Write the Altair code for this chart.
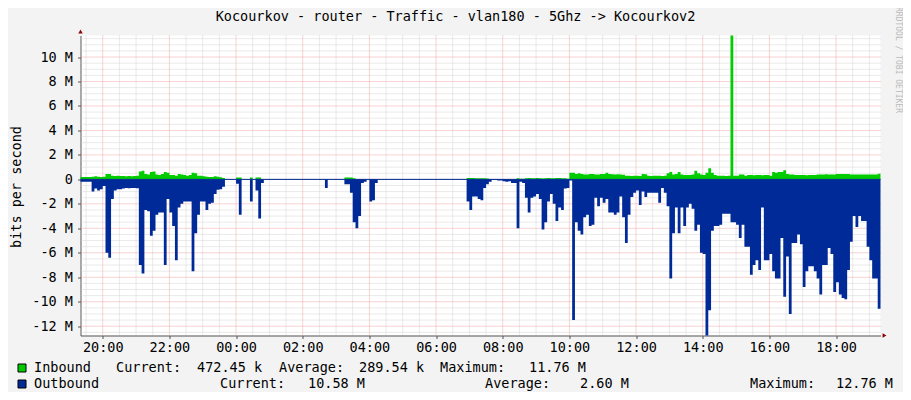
import altair as alt
import pandas as pd

TITLE = "Kocourkov - router - Traffic - vlan180 - 5Ghz -> Kocourkov2"
Y_TITLE = "bits per second"
WATERMARK = "RRDTOOL / TOBI OETIKER"
START_HOUR = 19 + 20 / 60
STEP_HOURS = 5 / 60

# Inbound traffic, M bits/s, one value per 5 minutes from 19:20
inbound = [
    0.2, 0.2, 0.2, 0.2, 0.22, 0.25, 0.22, 0.2, 0.22, 0.45, 0.45, 0.3,
    0.28, 0.3, 0.27, 0.27, 0.25, 0.27, 0.25, 0.27, 0.3, 0.65, 0.7, 0.45,
    0.4, 0.6, 0.65, 0.4, 0.35, 0.45, 0.6, 0.55, 0.35, 0.35, 0.3, 0.45,
    0.4, 0.35, 0.3, 0.35, 0.55, 0.5, 0.3, 0.3, 0.25, 0.22, 0.2, 0.2,
    0.25, 0.22, 0.18, 0.12, 0.02, 0.02, 0.02, 0.02, 0.15, 0.15, 0.02, 0.02,
    0.02, 0.15, 0.02, 0.15, 0.15, 0.02, 0.02, 0.02, 0.02, 0.02, 0.02, 0.02,
    0.02, 0.02, 0.02, 0.02, 0.02, 0.02, 0.02, 0.02, 0.02, 0.02, 0.02, 0.02,
    0.02, 0.02, 0.02, 0.02, 0.02, 0.02, 0.02, 0.02, 0.02, 0.02, 0.02, 0.15,
    0.15, 0.15, 0.1, 0.02, 0.02, 0.02, 0.02, 0.02, 0.02, 0.02, 0.02, 0.02,
    0.02, 0.02, 0.02, 0.02, 0.02, 0.02, 0.02, 0.02, 0.02, 0.02, 0.02, 0.02,
    0.02, 0.02, 0.02, 0.02, 0.02, 0.02, 0.02, 0.02, 0.02, 0.02, 0.02, 0.02,
    0.02, 0.02, 0.02, 0.02, 0.02, 0.02, 0.02, 0.12, 0.12, 0.12, 0.1, 0.1,
    0.1, 0.1, 0.08, 0.03, 0.03, 0.03, 0.03, 0.03, 0.03, 0.03, 0.03, 0.03,
    0.03, 0.1, 0.05, 0.05, 0.1, 0.12, 0.1, 0.1, 0.12, 0.1, 0.08, 0.1,
    0.12, 0.1, 0.1, 0.12, 0.12, 0.1, 0.1, 0.05, 0.55, 0.55, 0.45, 0.5,
    0.45, 0.4, 0.4, 0.45, 0.45, 0.4, 0.4, 0.45, 0.45, 0.55, 0.45, 0.42,
    0.4, 0.42, 0.4, 0.38, 0.3, 0.3, 0.28, 0.3, 0.3, 0.28, 0.45, 0.42,
    0.3, 0.28, 0.3, 0.3, 0.3, 0.28, 0.3, 0.5, 0.6, 0.4, 0.45, 0.6,
    0.4, 0.35, 0.35, 0.35, 0.4, 0.7, 0.5, 0.4, 0.35, 0.55, 0.9, 0.55,
    0.35, 0.3, 0.3, 0.3, 0.28, 0.3, 11.76, 0.3, 0.3, 0.4, 0.4, 0.3,
    0.35, 0.35, 0.33, 0.35, 0.35, 0.33, 0.35, 0.35, 0.3, 0.6, 0.55, 0.6,
    0.6, 0.75, 0.45, 0.4, 0.4, 0.35, 0.35, 0.35, 0.35, 0.33, 0.35, 0.35,
    0.35, 0.4, 0.4, 0.4, 0.42, 0.4, 0.4, 0.4, 0.45, 0.45, 0.45, 0.45,
    0.45, 0.4, 0.4, 0.4, 0.4, 0.4, 0.4, 0.4, 0.4, 0.4, 0.4, 0.47,
]

# Outbound traffic, M bits/s (drawn below zero)
outbound = [
    0.2, 0.2, 0.2, 0.2, 1.0, 0.75, 0.9, 0.8, 0.55, 6.0, 6.4, 1.6,
    0.9, 0.8, 0.8, 0.75, 0.7, 0.72, 0.7, 0.7, 0.72, 7.0, 7.7, 2.5,
    2.6, 4.6, 4.2, 2.9, 2.7, 2.7, 7.0, 1.6, 2.7, 3.8, 6.6, 2.3,
    2.0, 1.8, 1.8, 1.8, 7.5, 4.4, 2.9, 1.8, 1.8, 2.5, 2.0, 1.9,
    1.2, 0.85, 0.8, 0.6, 0.0, 0.0, 0.0, 0.0, 0.35, 2.9, 0.0, 0.0,
    0.0, 1.8, 0.0, 0.9, 3.2, 0.3, 0.0, 0.0, 0.0, 0.0, 0.0, 0.0,
    0.0, 0.0, 0.0, 0.0, 0.0, 0.0, 0.0, 0.0, 0.0, 0.0, 0.0, 0.0,
    0.0, 0.0, 0.0, 0.0, 0.7, 0.0, 0.0, 0.0, 0.0, 0.0, 0.0, 0.4,
    0.4, 1.1, 3.5, 4.0, 3.0, 0.3, 0.2, 0.0, 1.8, 1.7, 0.3, 0.0,
    0.0, 0.0, 0.0, 0.0, 0.0, 0.0, 0.0, 0.0, 0.0, 0.0, 0.0, 0.0,
    0.0, 0.0, 0.0, 0.0, 0.0, 0.0, 0.0, 0.0, 0.0, 0.0, 0.0, 0.0,
    0.0, 0.0, 0.0, 0.0, 0.0, 0.0, 0.0, 1.8, 2.5, 1.4, 1.4, 1.6,
    1.7, 0.7, 0.4, 0.2, 0.05, 0.05, 0.1, 0.1, 0.15, 0.2, 0.15, 0.3,
    0.3, 4.0, 0.2, 0.3, 1.5, 2.7, 1.5, 1.4, 1.2, 1.6, 4.1, 3.5,
    1.8, 1.2, 2.0, 3.4, 2.3, 2.5, 0.75, 0.7, 0.1, 11.5, 3.5, 4.2,
    4.5, 3.1, 2.9, 3.8, 3.7, 1.5, 2.2, 1.5, 1.9, 1.6, 2.7, 2.7,
    2.9, 2.7, 1.4, 3.1, 5.2, 2.9, 1.45, 1.1, 0.9, 2.1, 1.0, 1.45,
    1.1, 1.1, 1.1, 1.1, 1.9, 0.7, 1.1, 2.2, 8.1, 4.4, 2.3, 4.4,
    2.3, 3.8, 2.3, 2.0, 2.4, 4.2, 3.7, 6.0, 6.1, 12.76, 10.7, 4.2,
    3.8, 3.8, 3.7, 2.8, 2.8, 2.8, 3.5, 3.5, 3.7, 4.8, 3.7, 5.5,
    5.5, 7.8, 7.0, 6.6, 7.4, 2.3, 6.6, 6.6, 6.1, 7.5, 8.1, 8.1,
    4.8, 9.6, 6.3, 11.0, 5.2, 5.2, 4.5, 5.3, 8.8, 7.5, 7.1, 7.1,
    7.5, 8.1, 9.4, 7.0, 7.0, 5.6, 6.1, 9.2, 8.4, 9.4, 9.7, 9.8,
    7.4, 5.1, 3.0, 3.9, 3.0, 3.4, 3.4, 5.5, 6.6, 8.1, 8.1, 10.58,
]

x_major = [20, 22, 24, 26, 28, 30, 32, 34, 36, 38, 40, 42]
y_major = [-12, -10, -8, -6, -4, -2, 0, 2, 4, 6, 8, 10]
y_domain = [-12.76, 11.76]

legend_names = ["Inbound", "Outbound"]
legend_colors = ["#00CC00", "#002A97"]
legend_current = ["472.45 k", "10.58 M"]
legend_average = ["289.54 k", "2.60 M"]
legend_maximum = ["11.76 M", "12.76 M"]

FONT = "DejaVu Sans Mono"
FS = 13.5
PLOT_W, PLOT_H = 800, 300
PAD_L, PAD_T = 72.5, 27.5
TOTAL_W, TOTAL_H = 895, 384
OX, OY = 8 + PAD_L, 8 + PAD_T  # page position of plot origin

n = len(inbound)
t = [START_HOUR + i * STEP_HOURS for i in range(n + 1)]
df = pd.DataFrame({
    "t": t,
    "inb": inbound + [inbound[-1]],
    "outb": [-v for v in outbound] + [-outbound[-1]],
})

x_scale = alt.Scale(domain=[START_HOUR, START_HOUR + 24], nice=False, zero=False)
y_scale = alt.Scale(domain=y_domain, nice=False, zero=False)

x_axis = alt.Axis(
    values=x_major,
    labelExpr="(datum.value % 24 < 10 ? '0' : '') + (datum.value % 24) + ':00'",
    grid=False, title=None, domainColor="#555555", tickColor="#555555",
    tickSize=3, labelPadding=2, labelFont=FONT, labelFontSize=FS,
    labelColor="#000000", labelFlush=False, labelOverlap=False,
)
y_axis = alt.Axis(
    values=y_major,
    labelExpr="datum.value == 0 ? '0' : datum.value + ' M'",
    grid=False, title=None, domainColor="#555555", tickColor="#555555",
    tickSize=3, labelPadding=5, labelFont=FONT, labelFontSize=FS,
    labelColor="#000000", labelFlush=False, labelOverlap=False,
)


def xq(field):
    return alt.X(f"{field}:Q", scale=x_scale, axis=x_axis)


def yq(field):
    return alt.Y(f"{field}:Q", scale=y_scale, axis=y_axis)


x_minor = [19.5 + 0.5 * k for k in range(48) if (19.5 + 0.5 * k) not in x_major]
y_minor = [-12.5 + 0.5 * k for k in range(49) if (-12.5 + 0.5 * k) not in y_major]

MINOR_C = "#D4D4D4"
MAJOR_C = "#F2A6A6"
grid_minor_x = alt.Chart(pd.DataFrame({"g": x_minor})).mark_rule(
    color=MINOR_C, strokeDash=[1, 1], strokeWidth=1).encode(x=xq("g"))
grid_minor_y = alt.Chart(pd.DataFrame({"g": y_minor})).mark_rule(
    color=MINOR_C, strokeDash=[1, 1], strokeWidth=1).encode(y=yq("g"))
grid_major_x = alt.Chart(pd.DataFrame({"g": x_major})).mark_rule(
    color=MAJOR_C, strokeDash=[1, 1], strokeWidth=1).encode(x=xq("g"))
grid_major_y = alt.Chart(pd.DataFrame({"g": y_major})).mark_rule(
    color=MAJOR_C, strokeDash=[1, 1], strokeWidth=1).encode(y=yq("g"))

base = alt.Chart(df)
area_in = base.mark_area(interpolate="step-after", color="#00CC00").encode(
    x=xq("t"), y=yq("inb"))
area_out = base.mark_area(interpolate="step-after", color="#002A97").encode(
    x=xq("t"), y=yq("outb"))
zero_line = alt.Chart(pd.DataFrame({"z": [0]})).mark_rule(
    color="#002A97", strokeWidth=1).encode(y=yq("z"))


def text_at(s, px, py, size=FS, color="#000000", align="left", angle=0, font=FONT):
    return alt.Chart(pd.DataFrame({"s": [s]})).mark_text(
        font=font, fontSize=size, color=color, align=align, baseline="middle",
        angle=angle,
    ).encode(text="s:N", x=alt.value(px - OX), y=alt.value(py - OY))


def square_at(color, px, py):
    return alt.Chart(pd.DataFrame({"s": [0]})).mark_rect(
        color=color, stroke="#000000", strokeWidth=1,
    ).encode(
        x=alt.value(px - OX), x2=alt.value(px + 8 - OX),
        y=alt.value(py - 4 - OY), y2=alt.value(py + 4 - OY),
    )


arrow_up = alt.Chart(pd.DataFrame({"s": [0]})).mark_point(
    shape="triangle-up", filled=True, color="#8B0000", size=20, opacity=1,
).encode(x=alt.value(0), y=alt.value(-4))
arrow_right = alt.Chart(pd.DataFrame({"s": [0]})).mark_point(
    shape="triangle-right", filled=True, color="#8B0000", size=20, opacity=1,
).encode(x=alt.value(PLOT_W + 4), y=alt.value(PLOT_H))

texts = [
    text_at(TITLE, 455.5, 16.5, align="center"),
    text_at(Y_TITLE, 16.5, 187, align="center", angle=270),
    text_at(WATERMARK, 898, 60, size=8, color="#BBBBBB", align="center", angle=90),
    square_at(legend_colors[0], 18, 368),
    text_at(legend_names[0], 34, 368),
    text_at("Current:", 116, 368),
    text_at(legend_current[0], 197, 368),
    text_at("Average:", 279, 368),
    text_at(legend_average[0], 359, 368),
    text_at("Maximum:", 440, 368),
    text_at(legend_maximum[0], 529, 368),
    square_at(legend_colors[1], 18, 384),
    text_at(legend_names[1], 34, 384),
    text_at("Current:", 220, 384),
    text_at(legend_current[1], 308, 384),
    text_at("Average:", 485, 384),
    text_at(legend_average[1], 580, 384),
    text_at("Maximum:", 750, 384),
    text_at(legend_maximum[1], 836, 384),
]

chart = alt.layer(
    grid_minor_x, grid_minor_y, grid_major_x, grid_major_y,
    area_in, area_out, zero_line, arrow_up, arrow_right, *texts,
).properties(
    width=PLOT_W, height=PLOT_H,
    autosize=alt.AutoSizeParams(type="none"),
    padding={"left": PAD_L, "top": PAD_T,
             "right": TOTAL_W - PAD_L - PLOT_W,
             "bottom": TOTAL_H - PAD_T - PLOT_H},
).configure(
    background="#F3F3F3",
).configure_view(
    fill="#FFFFFF", stroke=None,
)

chart.save("out.html", embed_options={"renderer": "svg", "actions": False})
